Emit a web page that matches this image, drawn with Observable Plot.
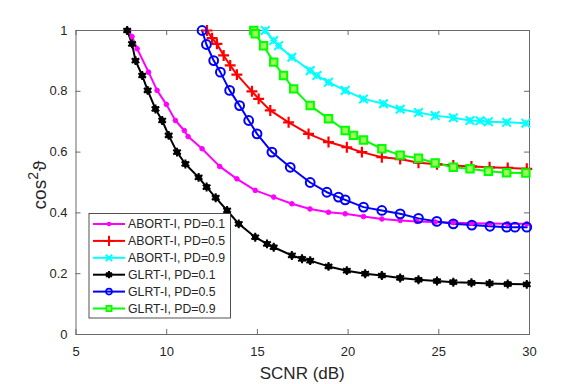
<!DOCTYPE html>
<html><head><meta charset="utf-8">
<script src="https://cdn.jsdelivr.net/npm/d3@7"></script>
<script src="https://cdn.jsdelivr.net/npm/@observablehq/plot@0.6"></script>
<style>body{margin:0;background:#fff;} #chart{width:581px;height:384px;}</style>
</head><body><div id="chart"></div>
<script>
const xTicks = [5, 10, 15, 20, 25, 30];
const yTicks = [0, 0.2, 0.4, 0.6, 0.8, 1];
const yTickLabels = ["0", "0.2", "0.4", "0.6", "0.8", "1"];
const seriesNames = ["ABORT-I, PD=0.1", "ABORT-I, PD=0.5", "ABORT-I, PD=0.9", "GLRT-I, PD=0.1", "GLRT-I, PD=0.5", "GLRT-I, PD=0.9"];

const abort01X = [7.9, 8.09, 8.37, 9.0, 9.47, 9.98, 10.48, 10.97, 11.18, 11.95, 12.92, 13.87, 14.88, 15.9, 16.9, 17.9, 18.92, 19.84, 20.85, 21.86, 22.87, 23.79, 24.8, 25.8, 26.8, 27.8, 28.8, 29.85];
const abort01Y = [1.0, 0.98, 0.94, 0.863, 0.803, 0.757, 0.704, 0.671, 0.651, 0.611, 0.553, 0.512, 0.474, 0.452, 0.43, 0.413, 0.402, 0.397, 0.388, 0.38, 0.375, 0.372, 0.37, 0.368, 0.366, 0.365, 0.364, 0.364];

const abort05X = [12.22, 12.5, 12.77, 13.14, 13.5, 13.87, 14.7, 15.07, 15.71, 16.72, 17.82, 18.92, 19.93, 20.76, 21.86, 22.87, 23.88, 24.9, 25.8, 26.8, 27.8, 28.8, 29.85];
const abort05Y = [1.0, 0.975, 0.956, 0.918, 0.885, 0.855, 0.8, 0.775, 0.737, 0.698, 0.66, 0.633, 0.616, 0.6, 0.583, 0.577, 0.565, 0.56, 0.556, 0.553, 0.55, 0.548, 0.545];

const abort09X = [15.43, 15.9, 16.17, 16.9, 17.91, 18.28, 18.92, 19.84, 20.85, 21.95, 22.87, 23.88, 24.8, 25.8, 26.72, 27.27, 27.73, 28.74, 29.8];
const abort09Y = [1.0, 0.967, 0.95, 0.912, 0.868, 0.852, 0.83, 0.803, 0.775, 0.759, 0.741, 0.73, 0.72, 0.713, 0.704, 0.703, 0.7, 0.698, 0.695];

const glrt01X = [7.82, 8.09, 8.28, 8.65, 8.95, 9.38, 9.75, 10.11, 10.57, 11.03, 11.76, 12.2, 12.7, 13.33, 13.97, 14.88, 15.53, 15.9, 16.9, 17.46, 17.91, 18.92, 19.93, 20.94, 21.86, 22.87, 23.88, 24.9, 25.8, 26.8, 27.8, 28.8, 29.85];
const glrt01Y = [1.0, 0.956, 0.901, 0.852, 0.803, 0.742, 0.704, 0.655, 0.6, 0.561, 0.517, 0.485, 0.45, 0.408, 0.364, 0.32, 0.298, 0.287, 0.26, 0.249, 0.243, 0.224, 0.21, 0.2, 0.194, 0.186, 0.18, 0.176, 0.172, 0.17, 0.168, 0.166, 0.165];

const glrt05X = [11.95, 12.19, 12.59, 12.96, 13.47, 14.02, 14.52, 14.98, 15.8, 16.81, 17.91, 18.83, 19.47, 19.84, 20.85, 21.86, 22.87, 23.88, 24.89, 25.8, 26.82, 27.82, 28.74, 29.2, 29.85];
const glrt05Y = [1.0, 0.954, 0.901, 0.863, 0.803, 0.753, 0.704, 0.66, 0.6, 0.55, 0.5, 0.468, 0.452, 0.443, 0.419, 0.408, 0.397, 0.382, 0.372, 0.364, 0.36, 0.356, 0.353, 0.353, 0.353];

const glrt09X = [14.8, 14.88, 15.34, 15.9, 16.44, 17.0, 17.91, 18.92, 19.84, 20.3, 20.85, 21.86, 22.87, 23.88, 24.8, 25.8, 26.72, 27.73, 28.74, 29.8];
const glrt09Y = [1.0, 0.989, 0.95, 0.896, 0.852, 0.808, 0.753, 0.71, 0.671, 0.655, 0.64, 0.611, 0.59, 0.58, 0.564, 0.55, 0.545, 0.537, 0.532, 0.531];

const series = [
  {name: seriesNames[0], color: "#ff00ff", marker: "circle", xs: abort01X, ys: abort01Y},
  {name: seriesNames[1], color: "#ff0000", marker: "plus", xs: abort05X, ys: abort05Y},
  {name: seriesNames[2], color: "#00ffff", marker: "times", xs: abort09X, ys: abort09Y},
  {name: seriesNames[3], color: "#000000", marker: "asterisk", xs: glrt01X, ys: glrt01Y},
  {name: seriesNames[4], color: "#0000ff", marker: "ocircle", xs: glrt05X, ys: glrt05Y},
  {name: seriesNames[5], color: "#00ff00", marker: "square", xs: glrt09X, ys: glrt09Y}
];
series.forEach(s => s.data = s.xs.map((x, i) => ({x, y: s.ys[i]})));

function markerMarks(s) {
  const d = s.data;
  switch (s.marker) {
    case "circle": return [Plot.dot(d, {x: "x", y: "y", r: 2.3, fill: s.color, stroke: s.color, strokeWidth: 1})];
    case "plus": return [Plot.dot(d, {x: "x", y: "y", symbol: "plus", r: 3.6, stroke: s.color, strokeWidth: 2.2})];
    case "times": return [
      Plot.dot(d, {x: "x", y: "y", symbol: "times", r: 4, stroke: s.color, strokeWidth: 2}),
      Plot.dot(d, {x: "x", y: "y", symbol: "plus", r: 2.4, stroke: s.color, strokeWidth: 1.5})];
    case "asterisk": return [
      Plot.dot(d, {x: "x", y: "y", r: 3.2, fill: s.color}),
      Plot.dot(d, {x: "x", y: "y", symbol: "asterisk", r: 4.2, stroke: s.color, strokeWidth: 2})];
    case "ocircle": return [Plot.dot(d, {x: "x", y: "y", r: 4.4, stroke: s.color, strokeWidth: 2, fill: "none"})];
    case "square": return [Plot.dot(d, {x: "x", y: "y", symbol: "square", r: 4.2, stroke: s.color, strokeWidth: 2, fill: "#9cff5a"})];
  }
}

const M = {left: 75.5, right: 52, top: 30, bottom: 50};
const W = 581, H = 384;
const innerH = H - M.top - M.bottom, innerW = W - M.left - M.right;
const axisColor = "#6a6a6a";

const chart = Plot.plot({
  width: W, height: H,
  marginLeft: M.left, marginRight: M.right, marginTop: M.top, marginBottom: M.bottom,
  style: {fontFamily: "'Liberation Sans', Arial, sans-serif", background: "#fff", color: "#262626"},
  x: {domain: [5, 30]},
  y: {domain: [0, 1]},
  marks: [
    Plot.frame({stroke: axisColor, strokeWidth: 1}),
    Plot.tickX(xTicks, {x: d => d, insetTop: innerH - 5, stroke: axisColor}),
    Plot.tickX(xTicks, {x: d => d, insetBottom: innerH - 5, stroke: axisColor}),
    Plot.tickY(yTicks, {y: d => d, insetRight: innerW - 5, stroke: axisColor}),
    Plot.tickY(yTicks, {y: d => d, insetLeft: innerW - 5, stroke: axisColor}),
    Plot.axisX(xTicks, {tickSize: 0, tickPadding: 12, fontSize: 13, label: null, fill: "#262626"}),
    Plot.axisY(yTicks, {tickSize: 0, tickPadding: 8.5, fontSize: 13, label: null, tickFormat: (d, i) => yTickLabels[i], fill: "#262626"}),
    ...series.map(s => Plot.line(s.data, {x: "x", y: "y", stroke: s.color, strokeWidth: 2})),
    ...series.flatMap(markerMarks)
  ]
});
document.getElementById("chart").appendChild(chart);

const svg = d3.select(chart);
const xs = chart.scale("x"), ys = chart.scale("y");
// axis labels
svg.append("text").attr("x", (xs.apply(5) + xs.apply(30)) / 2).attr("y", 378.5)
  .attr("text-anchor", "middle").attr("font-size", 17).attr("fill", "#262626").text("SCNR (dB)");
const yl = svg.append("text").attr("transform", `translate(45.5,185) rotate(-90)`)
  .attr("text-anchor", "middle").attr("font-size", 19).attr("fill", "#262626");
yl.append("tspan").text("cos");
yl.append("tspan").attr("dy", -8).attr("font-size", 14).text("2");
yl.append("tspan").attr("dy", 8).attr("dx", 1).text("ϑ");

// legend
const lg = svg.append("g");
const lx = 89, ly = 213.5, lw = 141.5, lh = 104.5;
lg.append("rect").attr("x", lx).attr("y", ly).attr("width", lw).attr("height", lh)
  .attr("fill", "#fff").attr("stroke", "#262626").attr("stroke-width", 0.8);
series.forEach((s, i) => {
  const cy = ly + 10.5 + i * 16.9;
  const g = lg.append("g");
  g.append("line").attr("x1", 93).attr("x2", 125).attr("y1", cy).attr("y2", cy).attr("stroke", s.color).attr("stroke-width", 2);
  const cx = 109;
  if (s.marker === "circle") g.append("circle").attr("cx", cx).attr("cy", cy).attr("r", 2.3).attr("fill", s.color);
  else if (s.marker === "ocircle") g.append("circle").attr("cx", cx).attr("cy", cy).attr("r", 3).attr("fill", "none").attr("stroke", s.color).attr("stroke-width", 1.6);
  else if (s.marker === "square") g.append("path").attr("transform", `translate(${cx},${cy})`).attr("d", d3.symbol(d3.symbolSquare, Math.PI * 3 * 3)()).attr("fill", "#9cff5a").attr("stroke", s.color).attr("stroke-width", 1.6);
  else if (s.marker === "plus") g.append("path").attr("transform", `translate(${cx},${cy})`).attr("d", d3.symbol(d3.symbolPlus, Math.PI * 3.4 * 3.4)()).attr("fill", "none").attr("stroke", s.color).attr("stroke-width", 2);
  else if (s.marker === "times") g.append("path").attr("transform", `translate(${cx},${cy})`).attr("d", d3.symbol(d3.symbolTimes, Math.PI * 3 * 3)()).attr("fill", "none").attr("stroke", s.color).attr("stroke-width", 2);
  else {
    g.append("circle").attr("cx", cx).attr("cy", cy).attr("r", 2.8).attr("fill", s.color);
    g.append("path").attr("transform", `translate(${cx},${cy})`).attr("d", d3.symbol(d3.symbolAsterisk, Math.PI * 3.4 * 3.4)()).attr("fill", "none").attr("stroke", s.color).attr("stroke-width", 2);
  }
  g.append("text").attr("x", 128).attr("y", cy).attr("dy", "0.36em").attr("text-anchor", "start")
    .attr("font-size", 12.3).attr("fill", "#262626").text(s.name);
});
</script>
</body></html>
